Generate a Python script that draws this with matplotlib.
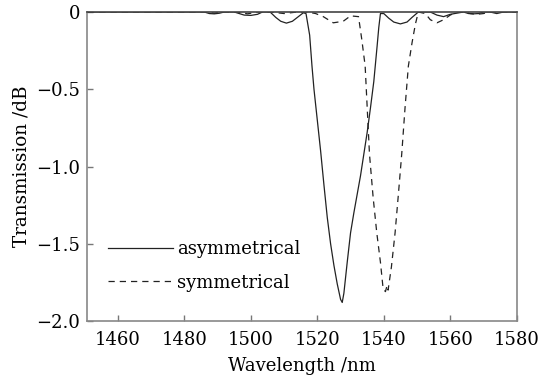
import matplotlib
matplotlib.use("Agg")
import matplotlib.pyplot as plt

# asymmetrical (solid)
asym_wl = [1451, 1486, 1487.5, 1489, 1490.5, 1492, 1495, 1496.5, 1498, 1500, 1502, 1503.5,
           1505.8, 1507.5, 1509, 1510.7, 1512.5, 1514, 1515.8, 1516.6, 1517.7, 1518.4, 1519,
           1520, 1521, 1522, 1523, 1524, 1525, 1526, 1527, 1527.5, 1528, 1529, 1530, 1531,
           1532, 1533, 1534, 1535, 1536, 1537, 1538, 1538.5, 1539, 1540, 1541.5, 1543, 1545,
           1547, 1548.5, 1550.4, 1554, 1556, 1558, 1560, 1564, 1565.5, 1567, 1568.5, 1570,
           1572, 1574, 1576, 1580]
asym_db = [0, 0, -0.01, -0.012, -0.008, 0, 0, -0.01, -0.02, -0.022, -0.015, 0,
           0, -0.035, -0.06, -0.072, -0.06, -0.035, -0.005, -0.01, -0.15, -0.35, -0.5,
           -0.7, -0.9, -1.12, -1.33, -1.5, -1.64, -1.76, -1.86, -1.88, -1.82, -1.62, -1.43, -1.3,
           -1.18, -1.06, -0.92, -0.78, -0.62, -0.45, -0.22, -0.1, -0.01, -0.01, -0.04, -0.065, -0.077,
           -0.065, -0.035, 0, 0, -0.02, -0.03, -0.015, 0, -0.01, -0.012, -0.01, 0,
           0, -0.01, 0, 0]

# symmetrical (dashed)
sym_wl = [1451, 1487, 1489, 1491, 1496, 1499, 1502, 1506, 1510, 1514, 1517, 1519.5, 1521.8,
          1524.8, 1527.8, 1530, 1532.4, 1533.4, 1534.4, 1535.7, 1536.8, 1537.9, 1539, 1539.8,
          1540.5, 1541, 1541.3, 1542.3, 1543.4, 1544.4, 1545.4, 1546.4, 1547.4, 1548.5,
          1549.5, 1550.4, 1552.5, 1554, 1556, 1558, 1560, 1562, 1564, 1566, 1568, 1570, 1572, 1580]
sym_db = [0, 0, -0.008, 0, 0, -0.012, 0, 0, -0.01, 0, 0, -0.01, -0.03,
          -0.07, -0.06, -0.025, -0.03, -0.18, -0.35, -0.92, -1.2, -1.43, -1.62, -1.79,
          -1.81, -1.77, -1.8, -1.65, -1.43, -1.18, -0.92, -0.62, -0.35, -0.2,
          -0.08, 0, -0.01, -0.05, -0.07, -0.05, -0.02, 0, 0, -0.01, -0.015, -0.01, 0, 0]

x_ticks = [1460, 1480, 1500, 1520, 1540, 1560, 1580]
y_ticks = [0, -0.5, -1.0, -1.5, -2.0]
y_ticklabels = ["0", "\u22120.5", "\u22121.0", "\u22121.5", "\u22122.0"]

plt.rcParams['font.family'] = ['DejaVu Serif']
fig = plt.figure(figsize=(5.5, 3.75), dpi=100)
ax = fig.add_axes([87/550, 1-321/375, (516.7-87)/550, (321-12)/375])

ax.plot(asym_wl, asym_db, color='#222222', lw=0.9, label='asymmetrical')
ax.plot(sym_wl, sym_db, color='#222222', lw=0.9, ls=(0, (5, 4)), label='symmetrical')

ax.set_xlim(1450.7, 1580)
ax.set_ylim(-2.0, 0)
ax.set_xticks(x_ticks)
ax.set_yticks(y_ticks)
ax.set_yticklabels(y_ticklabels)
ax.tick_params(direction='in', length=4, width=1, color='#777777', labelsize=13,
               top=False, right=False, pad=7)
ax.tick_params(axis='y', pad=5)
for s in ax.spines.values():
    s.set_color('#888888')
    s.set_linewidth(1.2)
ax.spines['top'].set_color('#444444')

ax.set_xlabel('Wavelength /nm', fontsize=13, labelpad=6)
ax.set_ylabel('Transmission /dB', fontsize=13.2, labelpad=4)

ax.legend(loc='upper left', bbox_to_anchor=(0.033, 0.285), frameon=False, fontsize=13,
          handlelength=3.6, handletextpad=0.2, labelspacing=0.85, borderaxespad=0)

fig.savefig('out.png', dpi=100)
